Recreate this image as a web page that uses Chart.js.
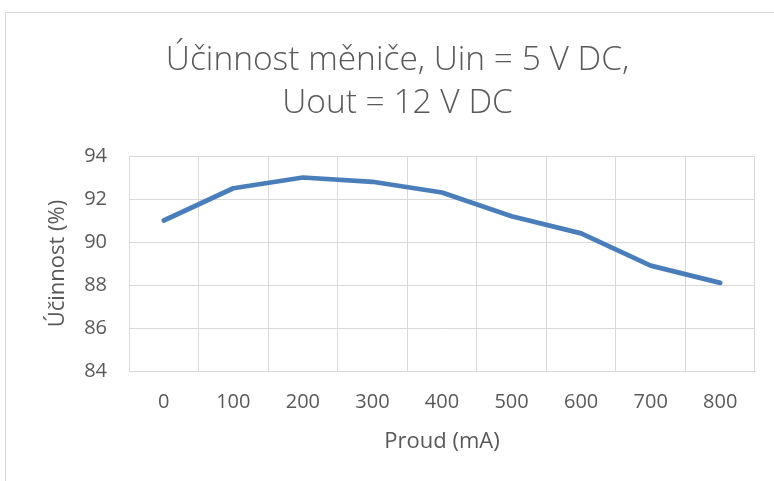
<!DOCTYPE html>
<html><head><meta charset="utf-8">
<script src="https://cdn.jsdelivr.net/npm/chart.js@4/dist/chart.umd.min.js"></script>
<style>
html,body{margin:0;padding:0;background:#fff;}
#wrap{position:absolute;left:0;top:0;width:774px;height:481px;}
#frame{position:absolute;left:5px;top:12px;width:800px;height:500px;border:1px solid #d9d9d9;box-sizing:border-box;}
</style></head><body>
<div id="frame"></div>
<div id="wrap"><canvas id="c" width="774" height="481"></canvas></div>
<script>
const titleLines = ['Účinnost měniče, Uin = 5 V DC,', 'Uout = 12 V DC'];
const categories = ['0','100','200','300','400','500','600','700','800'];
const efficiency = [91.0, 92.5, 93.0, 92.8, 92.3, 91.2, 90.4, 88.9, 88.1];
const yTitle = 'Účinnost (%)';
const xTitle = 'Proud (mA)';
const yMin = 84, yMax = 94, yStep = 2;

const FONT = '"Open Sans", Lato, sans-serif';
const GREY = '#595959';
const GRID = '#d9d9d9';

new Chart(document.getElementById('c'), {
  type: 'line',
  data: { labels: categories, datasets: [{ data: efficiency, borderColor: '#4a7ebb', borderWidth: 4.7, pointRadius: 0, borderCapStyle: 'round', borderJoinStyle: 'round', tension: 0 }] },
  options: {
    responsive: false, animation: false,
    layout: { padding: { top: 0, right: 19, left: 40, bottom: 0 } },
    plugins: {
      legend: { display: false }, tooltip: { enabled: false },
      title: { display: true, text: titleLines, color: GREY, font: { family: FONT, size: 33.5, weight: 300, lineHeight: '43px' }, padding: { top: 39, bottom: 31 } }
    },
    scales: {
      x: {
        offset: true,
        grid: { offset: true, color: GRID, lineWidth: 1, drawTicks: false },
        border: { color: GRID, width: 1 },
        ticks: { color: GREY, font: { family: FONT, size: 20 }, padding: 19, maxRotation: 0 },
        title: { display: true, text: xTitle, color: GREY, font: { family: FONT, size: 22 }, padding: { top: 26, bottom: 26 } },
        afterFit(s) { s.height = 110; }
      },
      y: {
        min: yMin, max: yMax,
        grid: { color: GRID, lineWidth: 1, drawTicks: false },
        border: { color: GRID, width: 1 },
        ticks: { stepSize: yStep, color: GREY, font: { family: FONT, size: 20 }, padding: 22 },
        title: { display: true, text: yTitle, color: GREY, font: { family: FONT, size: 22 }, padding: { top: 5, bottom: 5 } },
        afterFit(s) { s.width = 89; }
      }
    }
  }
});
</script>
</body></html>
